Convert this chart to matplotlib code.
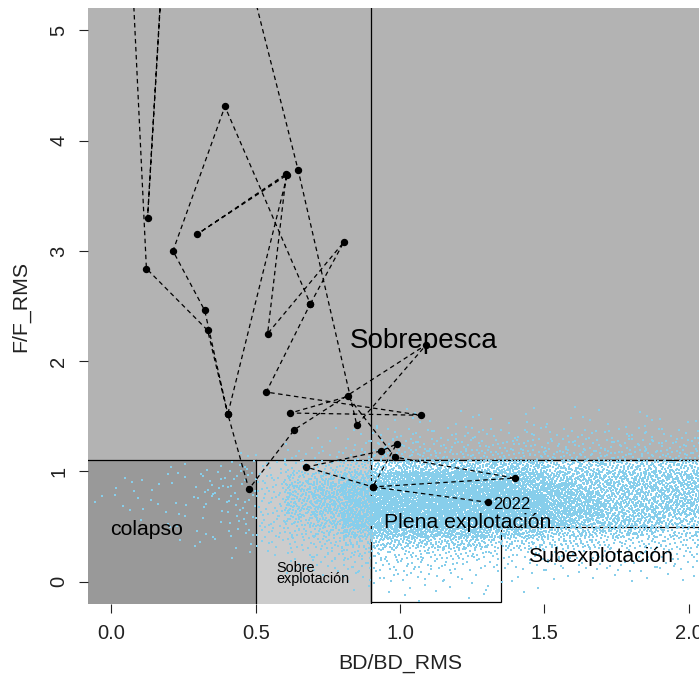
import numpy as np
import matplotlib.pyplot as plt
from matplotlib.patches import Rectangle, Polygon

plt.rcParams["font.family"] = ["Liberation Sans", "DejaVu Sans"]

# ── Trajectory (BD/BD_RMS, F/F_RMS), last point = 2022 ───────────────────────
traj_bd = [0.689, 0.805, 0.541, 0.606, 0.296, 0.609, 0.403, 0.476, 0.634,
           1.091, 0.850, 0.647, 0.312, 0.213, 0.125, 0.205, 0.041, 0.121,
           0.333, 0.403, 0.323, 0.213, 0.393, 0.689, 0.536, 1.072, 0.620,
           0.819, 0.982, 1.397, 0.905, 0.675, 0.934, 0.988, 0.905, 1.305]
traj_f = [2.52, 3.08, 2.25, 3.70, 3.15, 3.69, 1.52, 0.84, 1.38,
          2.15, 1.42, 3.73, 7.20, 7.20, 3.30, 6.80, 7.20, 2.84,
          2.28, 1.52, 2.46, 3.00, 4.31, 2.52, 1.72, 1.51, 1.53,
          1.68, 1.13, 0.94, 0.86, 1.04, 1.185, 1.25, 0.86, 0.72]
last_year = "2022"

# ── Uncertainty cloud: density levels (0-9) ──────────────────────────────────
# rows from F/F_RMS 1.6 (top) down to -0.2, columns BD/BD_RMS -0.1 .. 2.1
cloud_x0, cloud_y_top, cell = -0.1, 1.6, 0.1
cloud_levels = [
    "0000000000010101010100",
    "0000000000111111111111",
    "0000000011222222222222",
    "0000000112333333333333",
    "0000011223444444444444",
    "0001122345677777666666",
    "0111223567899988777777",
    "0111223678999998877777",
    "1111223678999999887777",
    "0111123678999999887777",
    "0011123568999998877766",
    "0001123457888877666655",
    "0001112345666655554444",
    "0000011234444433333333",
    "0000000223333222222222",
    "0000000112222111111111",
    "0000000001111111000000",
    "0000000000010100000000",
]
points_per_level = [0, 2, 6, 11, 18, 28, 44, 64, 95, 140]

# ── Reference points ─────────────────────────────────────────────────────────
f_lim, bd_lim, bd_full, bd_sub, f_sub = 1.1, 0.5, 0.9, 1.35, 0.5

C_OVER = "#B3B3B3"
C_COLL = "#999999"
C_SOBRE = "#CCCCCC"
C_CLOUD = "#87CEEB"


def halton(idx, base):
    """Van der Corput radical inverse, used to spread points inside a cell."""
    out = np.zeros(len(idx))
    f = 1.0 / base
    i = np.array(idx, dtype=float)
    while np.any(i > 0):
        out += f * (i % base)
        i = np.floor(i / base)
        f /= base
    return out


def cloud_points():
    xs, ys, k = [], [], 1
    for r, row in enumerate(cloud_levels):
        y0 = cloud_y_top - (r + 1) * cell
        for c, ch in enumerate(row):
            n = points_per_level[int(ch)]
            idx = np.arange(k, k + n)
            k += n
            xs.append(cloud_x0 + c * cell + halton(idx, 2) * cell)
            ys.append(y0 + halton(idx, 3) * cell)
    return np.concatenate(xs), np.concatenate(ys)


fig = plt.figure(figsize=(6.99, 6.82), dpi=100)
ax = fig.add_axes([88.4 / 699, (682 - 603.8) / 682, 623.4 / 699, 595.5 / 682])
xlo, xhi, ylo, yhi = -0.08, 2.08, -0.2, 5.2
ax.set_xlim(xlo, xhi)
ax.set_ylim(ylo, yhi)

# zones
ax.add_patch(Rectangle((xlo, f_lim), xhi - xlo, yhi - f_lim, fc=C_OVER, ec="none", zorder=0.5))
ax.add_patch(Rectangle((xlo, ylo), bd_lim - xlo, f_lim - ylo, fc=C_COLL, ec="none", zorder=0.5))
ax.add_patch(Rectangle((bd_lim, ylo), bd_full - bd_lim, f_lim - ylo, fc=C_SOBRE, ec="none", zorder=0.5))
ax.add_patch(Polygon([(bd_full, ylo + 0.02), (bd_sub, ylo + 0.02), (bd_sub, f_sub),
                      (xhi + 1, f_sub), (xhi + 1, f_lim), (bd_full, f_lim)],
                     closed=True, fc="white", ec="black", lw=0.9, zorder=1))
ax.plot([xlo, xhi], [f_lim, f_lim], color="black", lw=0.9, zorder=1)
ax.plot([bd_full, bd_full], [ylo, yhi], color="black", lw=0.9, zorder=1)
ax.plot([bd_lim, bd_lim], [ylo, f_lim], color="black", lw=0.9, zorder=1)

# cloud
cx, cy = cloud_points()
ax.scatter(cx, cy, s=4.4, marker="s", color=C_CLOUD, linewidths=0, zorder=2)

# trajectory
ax.plot(traj_bd, traj_f, color="black", lw=0.9, dashes=(3.6, 2.8), zorder=3)
ax.plot(traj_bd, traj_f, "o", color="black", ms=4.3, zorder=3.5)
ax.text(traj_bd[-1] + 0.018, traj_f[-1] - 0.02, last_year, fontsize=12,
        ha="left", va="center", zorder=4)

# zone labels
ax.text(1.082, 2.18, "Sobrepesca", fontsize=20, ha="center", va="center", zorder=4)
ax.text(1.235, 0.535, "Plena explotación", fontsize=15.3, ha="center", va="center", zorder=4)
ax.text(1.695, 0.227, "Subexplotación", fontsize=15.3, ha="center", va="center", zorder=4)
ax.text(0.123, 0.475, "colapso", fontsize=15.3, ha="center", va="center", zorder=4)
ax.text(0.572, 0.075, "Sobre\nexplotación", fontsize=10.4, ha="left", va="center",
        linespacing=0.75, zorder=4)

for s in ax.spines.values():
    s.set_visible(False)
ax.set_xticks([0.0, 0.5, 1.0, 1.5, 2.0])
ax.set_xticklabels(["0.0", "0.5", "1.0", "1.5", "2.0"])
ax.set_yticks([0, 1, 2, 3, 4, 5])
ax.set_yticklabels(["0", "1", "2", "3", "4", "5"], rotation=90, va="center")
ax.tick_params(direction="out", length=6.5, width=0.8, labelsize=14.5, pad=8,
               colors="#222222")
ax.set_xlabel("BD/BD_RMS", fontsize=15.3, labelpad=8, color="#222222")
ax.set_ylabel("F/F_RMS", fontsize=15.3, labelpad=14, color="#222222")

fig.savefig("out.png", dpi=100)
